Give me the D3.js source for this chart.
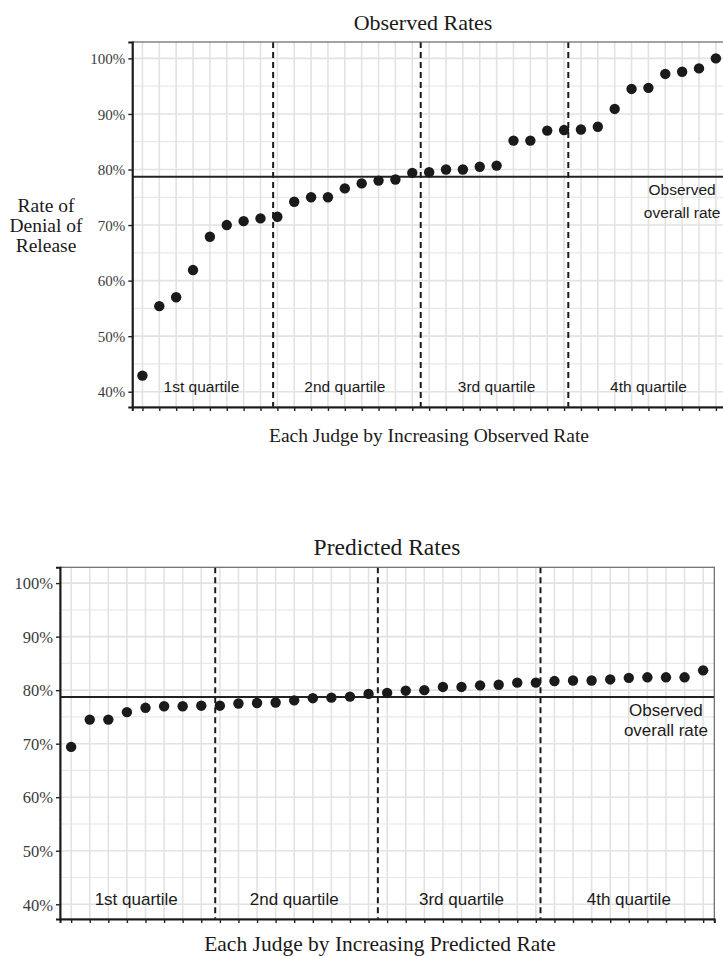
<!DOCTYPE html>
<html>
<head>
<meta charset="utf-8">
<script src="https://cdn.jsdelivr.net/npm/d3@7"></script>
<style>
  body { margin: 0; background: #fff; }
  svg { display: block; }
</style>
</head>
<body>
<svg id="chart" width="723" height="956"></svg>
<script>
// judges sorted by observed rate (percent)
const observedRates = [42.9, 55.4, 57.0, 61.9, 67.9, 70.0, 70.7, 71.2, 71.5, 74.2, 75.0, 75.0,
  76.6, 77.5, 78.0, 78.2, 79.4, 79.5, 80.0, 80.0, 80.5, 80.7, 85.2, 85.2, 87.0, 87.1, 87.2,
  87.7, 90.9, 94.5, 94.7, 97.2, 97.6, 98.2, 100.0];
// judges sorted by predicted rate (percent)
const predictedRates = [69.4, 74.5, 74.5, 75.9, 76.7, 77.0, 77.0, 77.1, 77.1, 77.5, 77.6, 77.7,
  78.1, 78.5, 78.6, 78.8, 79.3, 79.5, 79.9, 80.0, 80.6, 80.6, 80.9, 81.0, 81.4, 81.4, 81.7,
  81.8, 81.8, 82.0, 82.3, 82.4, 82.4, 82.4, 83.7];
const overallRate = 78.7;
const quartileCuts = [8.75, 17.5, 26.25];
const quartileLabels = ["1st quartile", "2nd quartile", "3rd quartile", "4th quartile"];
const quartileLabelPos = [4.5, 13, 22, 31];
const yTicks = [40, 50, 60, 70, 80, 90, 100];
const yMinor = [45, 55, 65, 75, 85, 95];
const overallLabel = ["Observed", "overall rate"];
const overallLabelPos = 33;

const svg = d3.select("#chart");
const serif = "'Liberation Serif', 'Times New Roman', serif";
const sans = "'Liberation Sans', Arial, sans-serif";

function drawPanel(opt) {
  const { values, left, right, top, bottom } = opt;
  const n = values.length;
  const x = d3.scaleLinear().domain([0.4, n + 0.6]).range([left, right]);
  const y = d3.scaleLinear().domain([37.25, 102.95]).range([bottom, top]);

  const g = svg.append("g");
  const clipId = "clip" + Math.round(top);
  svg.append("defs").append("clipPath").attr("id", clipId)
    .append("rect").attr("x", left).attr("y", top)
    .attr("width", right - left).attr("height", bottom - top);

  const panel = g.append("g").attr("clip-path", `url(#${clipId})`);

  // grid
  panel.selectAll(".ymin").data(yMinor).enter().append("line")
    .attr("x1", left).attr("x2", right)
    .attr("y1", d => y(d)).attr("y2", d => y(d))
    .attr("stroke", "#e8e8e8").attr("stroke-width", 1.2);
  panel.selectAll(".ymaj").data(yTicks).enter().append("line")
    .attr("x1", left).attr("x2", right)
    .attr("y1", d => y(d)).attr("y2", d => y(d))
    .attr("stroke", "#e2e2e2").attr("stroke-width", 1.6);
  panel.selectAll(".xmaj").data(values).enter().append("line")
    .attr("x1", (d, i) => x(i + 1)).attr("x2", (d, i) => x(i + 1))
    .attr("y1", top).attr("y2", bottom)
    .attr("stroke", "#e2e2e2").attr("stroke-width", 1.6);

  // quartile dividers
  panel.selectAll(".cut").data(quartileCuts).enter().append("line")
    .attr("x1", d => x(d)).attr("x2", d => x(d))
    .attr("y1", top).attr("y2", bottom)
    .attr("stroke", "#1a1a1a").attr("stroke-width", 2)
    .attr("stroke-dasharray", "6,4");

  // overall rate
  panel.append("line")
    .attr("x1", left).attr("x2", right)
    .attr("y1", y(overallRate)).attr("y2", y(overallRate))
    .attr("stroke", "#222").attr("stroke-width", 2);

  // points
  panel.selectAll(".pt").data(values).enter().append("circle")
    .attr("cx", (d, i) => x(i + 1)).attr("cy", d => y(d))
    .attr("r", 5.2).attr("fill", "#1a1a1a");

  // quartile labels
  panel.selectAll(".ql").data(quartileLabels).enter().append("text")
    .attr("x", (d, i) => x(quartileLabelPos[i])).attr("y", y(40) + opt.qlOffset)
    .attr("text-anchor", "middle")
    .attr("font-family", sans).attr("font-size", opt.labelSize).attr("fill", "#1a1a1a")
    .text(d => d);

  // overall label
  panel.selectAll(".ol").data(overallLabel).enter().append("text")
    .attr("x", x(overallLabelPos))
    .attr("y", (d, i) => y(overallRate) + opt.olFirst + i * opt.olStep)
    .attr("text-anchor", "middle")
    .attr("font-family", sans).attr("font-size", opt.labelSize).attr("fill", "#1a1a1a")
    .text(d => d);

  // border
  g.append("rect").attr("x", left).attr("y", top)
    .attr("width", right - left).attr("height", bottom - top)
    .attr("fill", "none").attr("stroke", "#666").attr("stroke-width", 1.2);

  // axes
  const xAxis = d3.axisBottom(x).tickValues(d3.range(1, n + 1)).tickSize(4).tickFormat("");
  g.append("g").attr("transform", `translate(0,${bottom})`).call(xAxis)
    .call(a => a.select(".domain").attr("stroke", "#1a1a1a").attr("stroke-width", 2))
    .call(a => a.selectAll(".tick line").attr("stroke", "#222").attr("stroke-width", 1.4));

  const yAxis = d3.axisLeft(y).tickValues(yTicks).tickSize(4).tickFormat(d => d + "%");
  g.append("g").attr("transform", `translate(${left},0)`).call(yAxis)
    .call(a => a.select(".domain").attr("stroke", "#1a1a1a").attr("stroke-width", 2))
    .call(a => a.selectAll(".tick line").attr("stroke", "#222").attr("stroke-width", 1.4))
    .call(a => a.selectAll(".tick text")
      .attr("font-family", serif).attr("font-size", opt.tickSize)
      .attr("fill", "#3a3a3a").attr("x", -7).attr("dy", "0.35em"));

  // titles
  svg.append("text").attr("x", opt.titleX).attr("y", opt.titleY)
    .attr("text-anchor", "middle").attr("font-family", serif)
    .attr("font-size", opt.titleSize).attr("fill", "#1a1a1a").text(opt.title);
  svg.append("text").attr("x", opt.xTitleX).attr("y", opt.xTitleY)
    .attr("text-anchor", "middle").attr("font-family", serif)
    .attr("font-size", opt.xTitleSize).attr("fill", "#1a1a1a").text(opt.xTitle);
}

drawPanel({
  values: observedRates, left: 132.3, right: 726, top: 42, bottom: 407,
  title: "Observed Rates", titleX: 423, titleY: 30, titleSize: 22,
  xTitle: "Each Judge by Increasing Observed Rate", xTitleX: 429, xTitleY: 442, xTitleSize: 19.5,
  tickSize: 15, labelSize: 15.5, qlOffset: 0, olFirst: 18, olStep: 23
});

drawPanel({
  values: predictedRates, left: 60, right: 714.3, top: 567.3, bottom: 919,
  title: "Predicted Rates", titleX: 387, titleY: 555, titleSize: 23.5,
  xTitle: "Each Judge by Increasing Predicted Rate", xTitleX: 380, xTitleY: 951, xTitleSize: 21.5,
  tickSize: 16.5, labelSize: 17, qlOffset: 1, olFirst: 18.5, olStep: 20
});

// y axis title (top chart only)
svg.append("text")
  .attr("font-family", serif).attr("font-size", 19.5).attr("fill", "#1a1a1a")
  .attr("text-anchor", "middle")
  .selectAll("tspan").data(["Rate of", "Denial of", "Release"]).enter().append("tspan")
  .attr("x", 46).attr("y", (d, i) => 211.5 + i * 20.4)
  .text(d => d);
</script>
</body>
</html>
